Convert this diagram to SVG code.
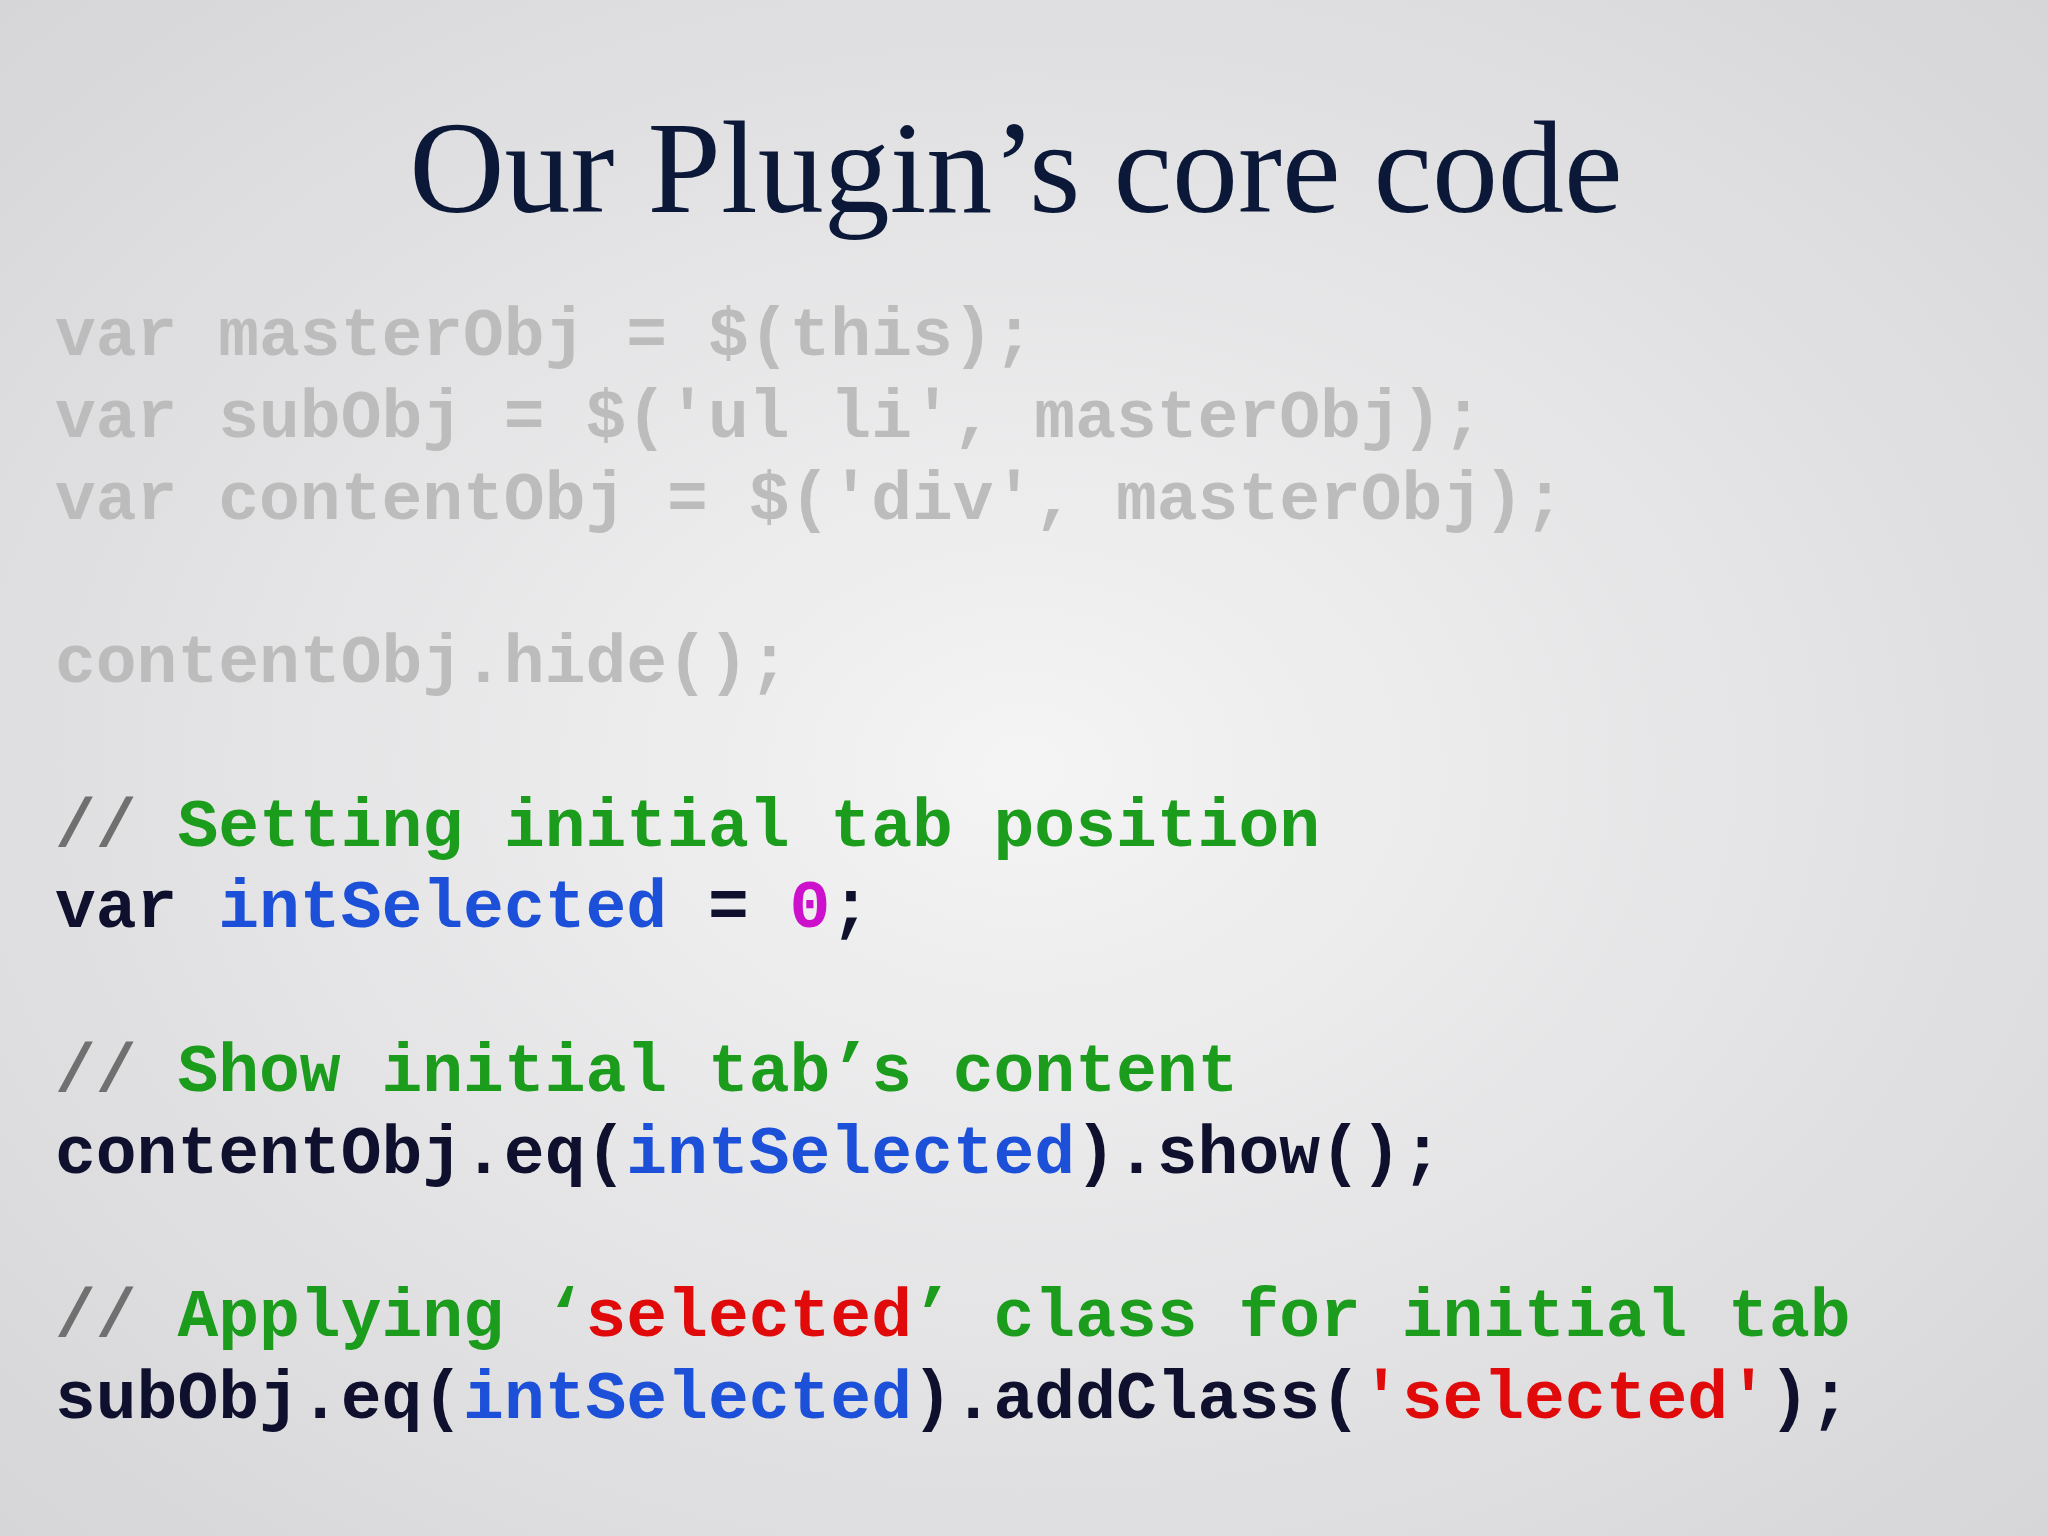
<svg xmlns="http://www.w3.org/2000/svg" width="2048" height="1536" viewBox="0 0 2048 1536">
<defs>
<radialGradient id="bg" cx="50%" cy="50%" r="70%">
<stop offset="0" stop-color="#f4f4f5"/>
<stop offset="1" stop-color="#d6d6d8"/>
</radialGradient>
<style>
.c{font-family:"Liberation Mono","Courier New",monospace;font-weight:bold;font-size:68px;white-space:pre}
.g{fill:#bcbcbc}.d{fill:#0f0f2e}.gr{fill:#1c9c1c}.b{fill:#1d50d8}.m{fill:#cc10cc}.r{fill:#e00a0a}.s{fill:#707070}
</style>
</defs>
<rect width="2048" height="1536" fill="url(#bg)"/>
<text x="1016" y="212" text-anchor="middle" font-family="'Liberation Serif','Times New Roman',serif" font-size="132" fill="#0b1838">Our Plugin’s core code</text>
<g xml:space="preserve">
<text class="c g" x="55" y="355">var masterObj = $(this);</text>
<text class="c g" x="55" y="437">var subObj = $('ul li', masterObj);</text>
<text class="c g" x="55" y="519">var contentObj = $('div', masterObj);</text>
<text class="c g" x="55" y="682">contentObj.hide();</text>
<text class="c" x="55" y="846"><tspan class="s">//</tspan><tspan class="gr"> Setting initial tab position</tspan></text>
<text class="c d" x="55" y="927">var <tspan class="b">intSelected</tspan> = <tspan class="m">0</tspan>;</text>
<text class="c" x="55" y="1091"><tspan class="s">//</tspan><tspan class="gr"> Show initial tab’s content</tspan></text>
<text class="c d" x="55" y="1173">contentObj.eq(<tspan class="b">intSelected</tspan>).show();</text>
<text class="c" x="55" y="1336"><tspan class="s">//</tspan><tspan class="gr"> Applying ‘<tspan class="r">selected</tspan>’ class for initial tab</tspan></text>
<text class="c d" x="55" y="1418">subObj.eq(<tspan class="b">intSelected</tspan>).addClass(<tspan class="r">'selected'</tspan>);</text>
</g>
</svg>
